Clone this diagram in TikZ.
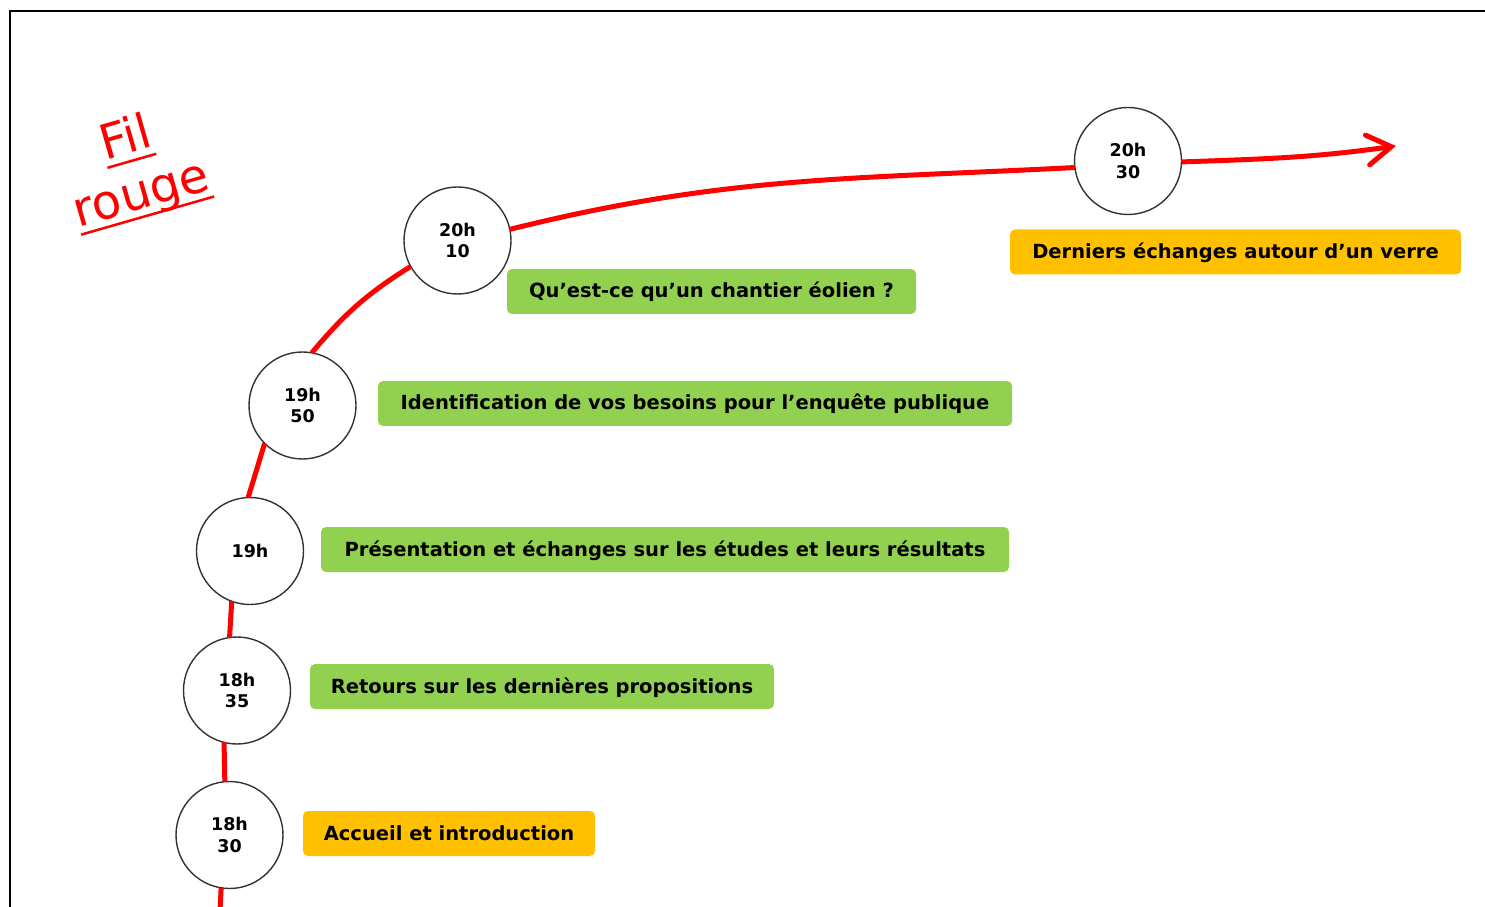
\documentclass[tikz,border=0pt]{standalone}
\usepackage{fontspec}
\setmainfont{DejaVu Sans}
\usetikzlibrary{arrows.meta}
\definecolor{boxgreen}{HTML}{92D050}
\definecolor{boxorange}{HTML}{FFC000}
\definecolor{circline}{HTML}{333333}
\newcommand\redul[1]{\setbox0=\hbox{#1}\rlap{\rule[-9pt]{\wd0}{2.5pt}}\box0}
\tikzset{
  timec/.style={circle, draw=circline, line width=1.4pt, fill=white, minimum size=107pt, inner sep=0pt, outer sep=0pt, align=center, font=\fontsize{17.5}{21.5}\selectfont\bfseries},
  evbox/.style={rounded corners=5pt, minimum height=45pt, inner sep=0pt, text height=15pt, text depth=2pt, font=\fontsize{19.5}{23}\selectfont\bfseries},
  green/.style={evbox, fill=boxgreen},
  orange/.style={evbox, fill=boxorange},
  fil/.style={draw=red, line width=5pt}
}
\begin{document}
\begin{tikzpicture}[x=1pt,y=1pt]
\useasboundingbox (0,0) rectangle (1485,906);
\draw[line width=2.2pt] (10,-5) -- (10,895) -- (1490,895);
% title
\node[red, rotate=16, align=center, font=\fontsize{48}{57}\selectfont] (title) at (134,738) {\redul{Fil}\\\redul{rouge}};
% time circles
\coordinate (start) at (220,-5);
\coordinate (tip) at (1396,760);
\node[timec] (c1) at (229.5,71) {18h\\30};
\node[timec] (c2) at (237,215.5) {18h\\35};
\node[timec] (c3) at (250,355) {19h};
\node[timec] (c4) at (302.5,500.5) {19h\\50};
\node[timec] (c5) at (457.5,665.5) {20h\\10};
\node[timec] (c6) at (1128,745) {20h\\30};
% red thread
\begin{scope}[on background layer/.style={}]
\end{scope}
\draw[fil] (start) -- (c1.261);
\draw[fil] (c1.95) -- (c2.256.6);
\draw[fil] (c2.98.7) -- (c3.250.6);
\draw[fil] (c3.92) -- (c4.225);
\draw[fil] (c4.80) to[out=50, in=212] (c5.209);
\draw[fil] (c5.12) to[out=14, in=183] (c6.187.5);
\draw[fil, -{Straight Barb[length=24pt, width=30pt, line cap=round]}] (c6.359) to[out=2, in=188] (tip);
% event boxes
\node[orange, minimum width=292pt] (ac) at (449,72.5) {Accueil et introduction};
\node[green, minimum width=464pt] (re) at (542,219.5) {Retours sur les dernières propositions};
\node[green, minimum width=688pt] (pr) at (665,356.5) {Présentation et échanges sur les études et leurs résultats};
\node[green, minimum width=634pt] (id) at (695,502.5) {Identification de vos besoins pour l’enquête publique};
\node[green, minimum width=409pt] (qu) at (711.5,614.5) {Qu’est-ce qu’un chantier éolien ?};
\node[orange, minimum width=451pt] (de) at (1235.5,654) {Derniers échanges autour d’un verre};
\end{tikzpicture}
\end{document}
